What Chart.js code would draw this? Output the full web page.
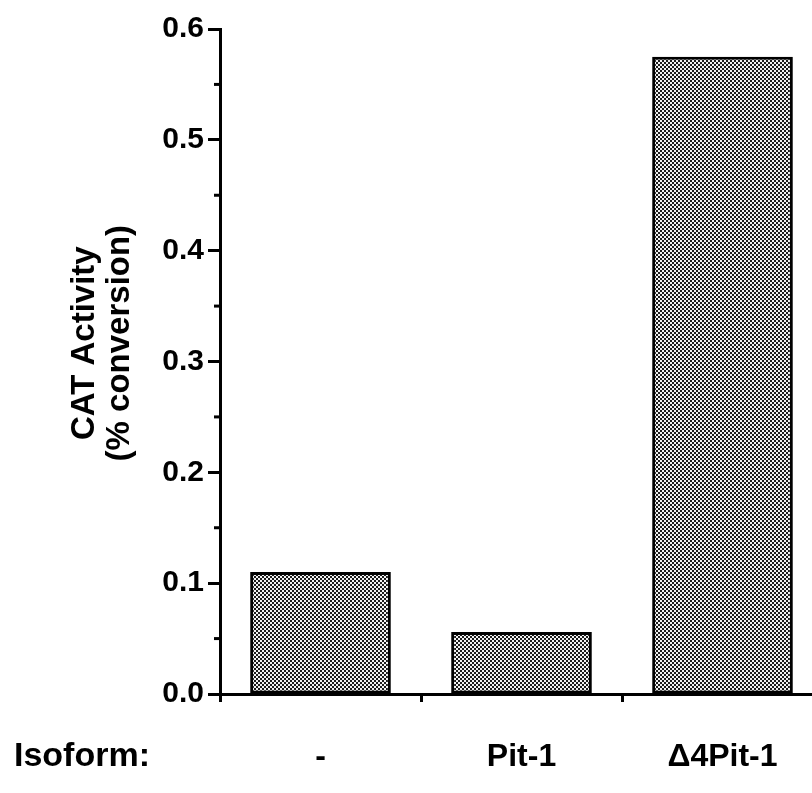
<!DOCTYPE html>
<html>
<head>
<meta charset="utf-8">
<script src="https://cdn.jsdelivr.net/npm/chart.js@4"></script>
<style>
  body { margin: 0; background: #fff; overflow: hidden; }
  #wrap { width: 812px; height: 793px; overflow: hidden; }
</style>
</head>
<body>
<div id="wrap"><canvas id="catChart" width="830" height="793"></canvas></div>
<script>
const isoforms = ["-", "Pit-1", "\u03944Pit-1"];
const catActivity = [0.11, 0.056, 0.575];
const yTitle = ["CAT Activity", "(% conversion)"];
const rowLabel = "Isoform:";
const yMin = 0, yMax = 0.6, yStep = 0.1, yMinorStep = 0.05;

const FONT = "'Liberation Sans', Arial, Helvetica, sans-serif";

// dotted grey fill like the scanned halftone
function makePattern() {
  const tile = document.createElement("canvas");
  tile.width = 4; tile.height = 4;
  const t = tile.getContext("2d");
  t.fillStyle = "#1c1c1c";
  t.fillRect(0, 0, 4, 4);
  t.fillStyle = "#f2f2f2";
  t.fillRect(0, 0, 2, 2);
  t.fillRect(2, 2, 2, 2);
  return t.createPattern(tile, "repeat");
}

const ctx = document.getElementById("catChart").getContext("2d");

const extras = {
  id: "extras",
  afterDraw(chart) {
    const c = chart.ctx;
    const y = chart.scales.y;
    const left = chart.chartArea.left;
    c.save();
    c.strokeStyle = "#000";
    c.lineWidth = 3;
    // minor ticks between labelled ones
    for (let v = yMin + yMinorStep; v < yMax; v += yStep) {
      const py = y.getPixelForValue(v);
      c.beginPath();
      c.moveTo(left - 6, py);
      c.lineTo(left, py);
      c.stroke();
    }
    c.fillStyle = "#000";
    c.font = "bold 34px " + FONT;
    c.textBaseline = "middle";
    c.textAlign = "left";
    c.fillText(rowLabel, 14, 757);
    c.restore();
  }
};

// pad the start of each title line so the block sits a bit higher, as in the original
const pad = "\u00a0\u00a0\u00a0\u00a0";

new Chart(ctx, {
  type: "bar",
  data: {
    labels: isoforms,
    datasets: [{
      data: catActivity,
      backgroundColor: makePattern(),
      borderColor: "#000",
      borderWidth: 3,
      borderSkipped: false,
      barPercentage: 0.7,
      categoryPercentage: 1.0
    }]
  },
  options: {
    responsive: false,
    animation: false,
    layout: { padding: { top: 29, right: 7, bottom: 0, left: 0 } },
    plugins: { legend: { display: false }, tooltip: { enabled: false } },
    scales: {
      x: {
        afterFit(scale) { scale.height = 99; },
        grid: { drawOnChartArea: false, drawTicks: true, tickLength: 8, tickWidth: 3, tickColor: "#000", offset: true },
        border: { display: true, color: "#000", width: 3 },
        ticks: { color: "#000", padding: 36, font: { family: FONT, size: 32, weight: "bold" } }
      },
      y: {
        min: yMin,
        max: yMax,
        afterFit(scale) { scale.width = 220; },
        grid: { drawOnChartArea: false, drawTicks: true, tickLength: 12, tickWidth: 3, tickColor: "#000" },
        border: { display: true, color: "#000", width: 3 },
        ticks: {
          stepSize: yStep,
          color: "#000",
          padding: 4,
          font: { family: FONT, size: 30, weight: "bold" },
          callback: v => Number(v).toFixed(1)
        },
        title: {
          display: true,
          text: yTitle.map(s => pad + s),
          color: "#000",
          padding: { top: 68, bottom: 0 },
          font: { family: FONT, size: 33, weight: "bold", lineHeight: 1.05 }
        }
      }
    }
  },
  plugins: [extras]
});
</script>
</body>
</html>
